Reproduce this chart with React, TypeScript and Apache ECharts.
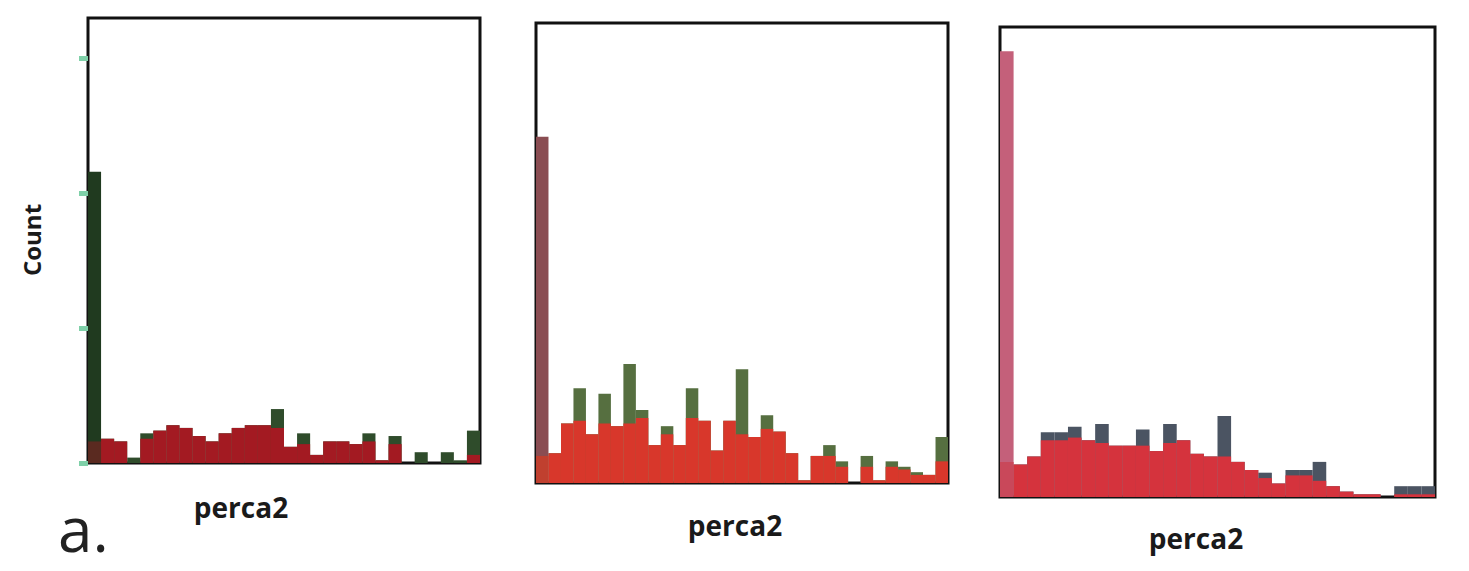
import React, { useEffect, useRef } from "react";
import * as echarts from "echarts";

// Panel 1 (30 bins)
const p1Bins = ["1","2","3","4","5","6","7","8","9","10","11","12","13","14","15","16","17","18","19","20","21","22","23","24","25","26","27","28","29","30"];
const p1Total = [108, 9, 8, 2, 11, 12, 14, 13, 10, 8, 11, 13, 14, 14, 20, 6, 11, 3, 8, 8, 7, 11, 1, 10, 0, 4, 0, 4, 1, 12];
const p1Red = [8, 9, 8, 0, 9, 12, 14, 13, 10, 8, 11, 13, 14, 14, 13, 6, 7, 3, 8, 8, 7, 8, 1, 7, 0, 0, 0, 0, 0, 3];

// Panel 2 (33 bins)
const p2Bins = ["1","2","3","4","5","6","7","8","9","10","11","12","13","14","15","16","17","18","19","20","21","22","23","24","25","26","27","28","29","30","31","32","33"];
const p2Total = [128, 11, 22, 35, 18, 33, 21, 44, 27, 14, 21, 14, 35, 23, 12, 23, 42, 17, 25, 19, 11, 1, 10, 14, 8, 0, 10, 1, 8, 6, 4, 3, 17];
const p2Red = [10, 11, 22, 23, 18, 22, 21, 22, 24, 14, 18, 14, 24, 23, 12, 23, 18, 17, 20, 19, 11, 1, 10, 10, 6, 0, 6, 1, 6, 5, 3, 3, 8];

// Panel 3 (32 bins)
const p3Bins = ["1","2","3","4","5","6","7","8","9","10","11","12","13","14","15","16","17","18","19","20","21","22","23","24","25","26","27","28","29","30","31","32"];
const p3Total = [165, 12, 15, 24, 24, 26, 21, 27, 19, 19, 25, 17, 27, 21, 16, 15, 30, 13, 10, 9, 5, 10, 10, 13, 4, 2, 1, 1, 0, 4, 4, 4];
const p3Red = [13, 12, 15, 21, 21, 22, 21, 20, 19, 19, 19, 17, 20, 21, 16, 15, 15, 13, 10, 7, 5, 8, 8, 6, 4, 2, 1, 1, 0, 1, 1, 1];

const yTicks1 = [0, 50, 100, 150];

const xLabel = "perca2";
const yLabel = "Count";
const panelTag = "a.";

const panels = [
  { bins: p1Bins, total: p1Total, red: p1Red, max: 165, grid: { left: 88, top: 18, width: 392, height: 445 }, colTotal: "#2f4c2b", colTall: "#203a1f", colRed: "#a31a22", colRedTall: "#5a2a20", ticks: true },
  { bins: p2Bins, total: p2Total, red: p2Red, max: 170, grid: { left: 536, top: 23, width: 412, height: 460 }, colTotal: "#566f40", colTall: "#8a4d52", colRed: "#d8372b", colRedTall: "#c0402f", ticks: false },
  { bins: p3Bins, total: p3Total, red: p3Red, max: 174, grid: { left: 1000, top: 27, width: 435, height: 470 }, colTotal: "#4b5462", colTall: "#c4607a", colRed: "#d5333d", colRedTall: "#c9485a", ticks: false },
];

export default function App() {
  const ref = useRef<HTMLDivElement>(null);
  useEffect(() => {
    if (!ref.current) return;
    const chart = echarts.init(ref.current, null, { renderer: "svg" });
    const grids: any[] = [];
    const xAxes: any[] = [];
    const yAxes: any[] = [];
    const series: any[] = [];
    panels.forEach((p, i) => {
      grids.push({ ...p.grid, show: true, borderColor: "#111", borderWidth: 3, backgroundColor: "transparent", containLabel: false });
      xAxes.push({
        type: "category", gridIndex: i, data: p.bins, boundaryGap: true,
        axisLine: { show: false }, axisTick: { show: false }, axisLabel: { show: false }, splitLine: { show: false },
      });
      yAxes.push({
        type: "value", gridIndex: i, min: 0, max: p.max, interval: 50,
        axisLine: { show: false },
        axisTick: { show: p.ticks, inside: false, length: 9, customValues: yTicks1, lineStyle: { color: "#7fd0a8", width: 5 } },
        axisLabel: { show: false },
        splitLine: { show: false },
      });
      series.push({
        type: "bar", name: "total" + i, xAxisIndex: i, yAxisIndex: i, data: p.total,
        barGap: "-100%", barCategoryGap: "0%",
        itemStyle: { color: (d: any) => (d.dataIndex === 0 ? p.colTall : p.colTotal) },
      });
      series.push({
        type: "bar", name: "red" + i, xAxisIndex: i, yAxisIndex: i, data: p.red,
        barGap: "-100%", barCategoryGap: "0%",
        itemStyle: { color: (d: any) => (d.dataIndex === 0 ? p.colRedTall : p.colRed) },
      });
    });
    chart.setOption({
      animation: false,
      backgroundColor: "#ffffff",
      grid: grids,
      xAxis: xAxes,
      yAxis: yAxes,
      series,
      graphic: [
        { type: "text", x: 31, y: 240, rotation: Math.PI / 2, style: { text: yLabel, font: "bold 24px 'Open Sans'", fill: "#1a1a1a", textAlign: "center", textVerticalAlign: "middle" } },
        { type: "text", x: 241, y: 507, style: { text: xLabel, font: "bold 28px 'Open Sans'", fill: "#1a1a1a", textAlign: "center", textVerticalAlign: "middle" } },
        { type: "text", x: 735, y: 525, style: { text: xLabel, font: "bold 28px 'Open Sans'", fill: "#1a1a1a", textAlign: "center", textVerticalAlign: "middle" } },
        { type: "text", x: 1196, y: 538, style: { text: xLabel, font: "bold 28px 'Open Sans'", fill: "#1a1a1a", textAlign: "center", textVerticalAlign: "middle" } },
        { type: "text", x: 58, y: 528, style: { text: panelTag, font: "62px 'Open Sans'", fill: "#222", textAlign: "left", textVerticalAlign: "middle" } },
      ],
    });
    return () => chart.dispose();
  }, []);
  return <div ref={ref} style={{ position: "absolute", left: 0, top: 0, width: 1469, height: 571, background: "#fff" }} />;
}
